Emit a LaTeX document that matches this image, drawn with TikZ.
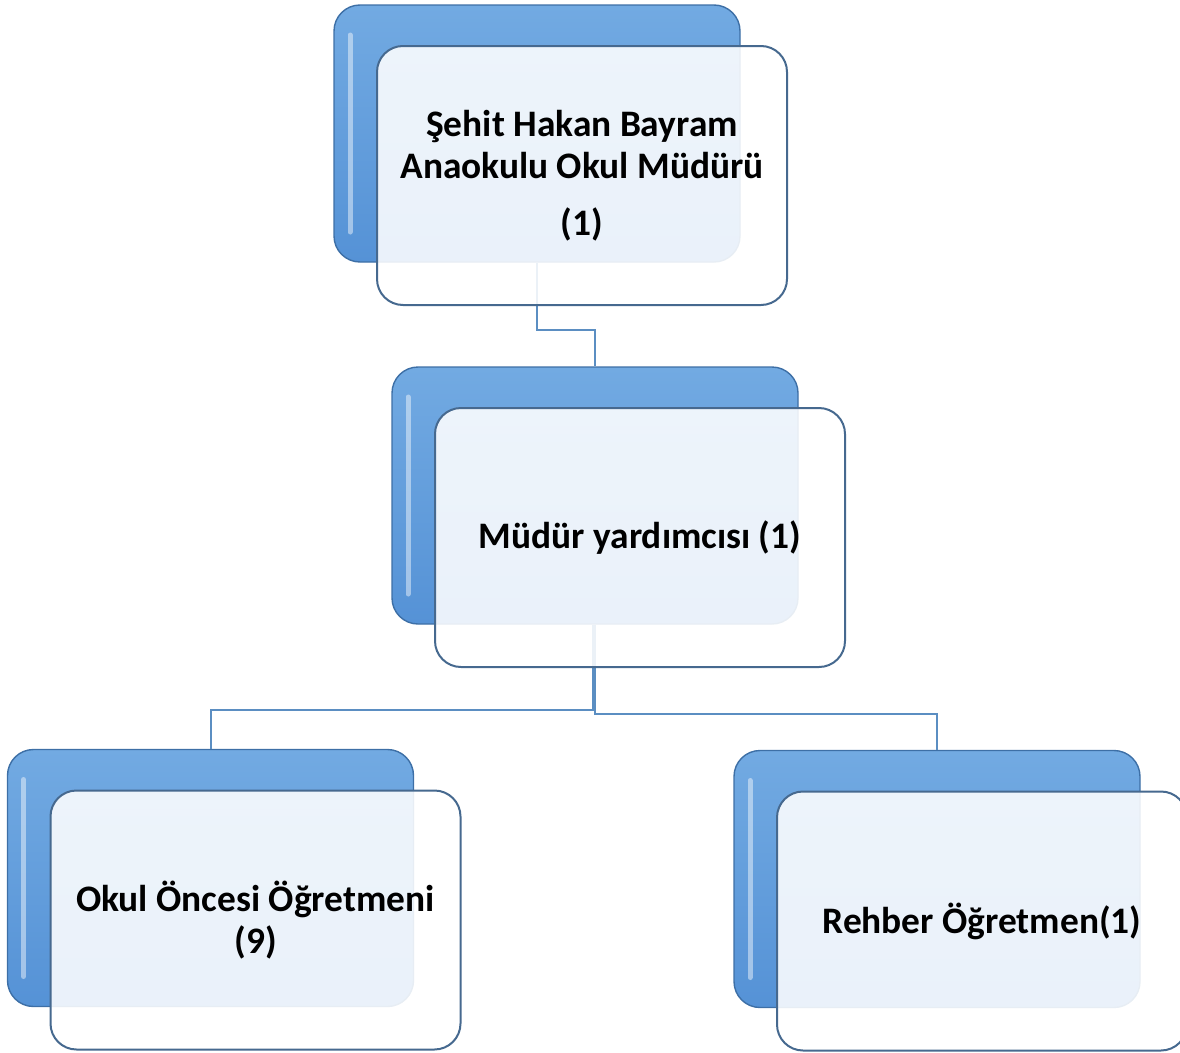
\documentclass[tikz,border=0pt]{standalone}
\usepackage{fontspec}
\setmainfont{Carlito}
\usetikzlibrary{positioning,calc}
\definecolor{backtop}{HTML}{72AAE2}
\definecolor{backbot}{HTML}{5592D6}
\definecolor{backedge}{HTML}{3D6FA6}
\definecolor{frontedge}{HTML}{46698F}
\definecolor{linkblue}{HTML}{5B8EC2}
\tikzset{
  backbox/.style={draw=backedge, line width=1.4pt, rounded corners=26pt,
    top color=backtop, bottom color=backbot,
    minimum width=406pt, minimum height=257pt, inner sep=0pt,
    path picture={
      \draw[white, opacity=.45, line width=5pt, line cap=round]
        ([xshift=16pt,yshift=-30pt]path picture bounding box.north west) --
        ([xshift=16pt,yshift=30pt]path picture bounding box.south west);
    }},
  frontbox/.style={draw=frontedge, line width=2pt, rounded corners=26pt,
    fill=white, fill opacity=.88, text opacity=1,
    minimum width=410pt, minimum height=259pt, align=center,
    font=\bfseries\fontsize{37.4}{42}\selectfont},
  link/.style={draw=linkblue, line width=2pt}
}
\begin{document}
\begin{tikzpicture}[x=1pt,y=-1pt]
\useasboundingbox (0,0) rectangle (1180,1052);
% back boxes
\node[backbox] (mgrb) at (537,133.5) {};
\node[backbox] (asstb) at (595,495.5) {};
\node[backbox] (teachb) at (210.5,878) {};
\node[backbox] (guideb) at (937,879) {};
% connectors
\draw[link] (mgrb.south) -- ++(0,67) -| (asstb.north);
\draw[link] (asstb.south) ++(-2,0) -- ++(0,85) -| (teachb.north);
\draw[link] (asstb.south) -- ++(0,89) -| (guideb.north);
% front boxes
\node[frontbox] (mgrf) at ([shift={(45,42)}]mgrb) {Şehit Hakan Bayram\\Anaokulu Okul Müdürü\\[15pt](1)};
\node[frontbox] (asstf) at ([shift={(45,42)}]asstb) {Müdür yardımcısı (1)};
\node[frontbox] (teachf) at ([shift={(45,42)}]teachb) {Okul Öncesi Öğretmeni\\(9)};
\node[frontbox] (guidef) at ([shift={(45,42)}]guideb) {Rehber Öğretmen(1)};
\end{tikzpicture}
\end{document}
